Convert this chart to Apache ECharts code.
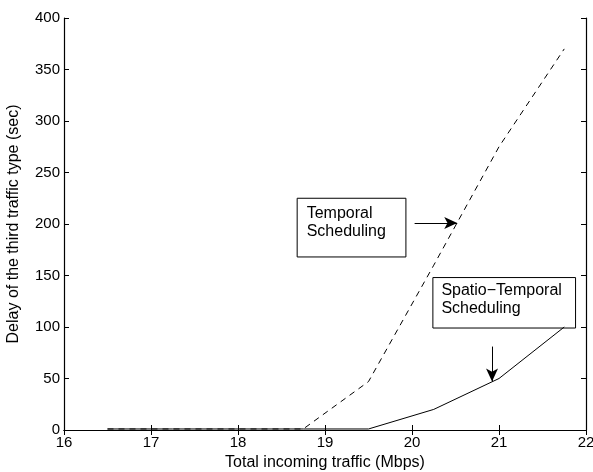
<!DOCTYPE html>
<html>
<head>
<meta charset="utf-8">
<script src="https://cdn.jsdelivr.net/npm/echarts@6/dist/echarts.min.js"></script>
<style>
    html, body { margin: 0; padding: 0; background: #fff; }
    #main { width: 593px; height: 472px; }
</style>
</head>
<body>
<div id="main"></div>
<script>
// traffic (Mbps)
var traffic = [16.5, 17.25, 18, 18.75, 19.5, 20.25, 21, 21.75]
// delay (sec)
var temporalDelay = [1, 1, 1, 1, 47, 160, 275, 370]
var spatioDelay = [1, 1, 1, 1, 1, 20, 50, 100]
var xTicks = [16, 22, 1]
var yTicks = [0, 400, 50]

var font = 'Liberation Sans, Arial, sans-serif'

function pairs (xs, ys) {
    return xs.map(function (x, i) { return [x, ys[i]] })
}

var arrowStyle = {
    silent: true,
    symbol: ['none', 'arrow'],
    symbolSize: [9, 13],
    label: {show: false},
    lineStyle: {color: '#000', width: 1, type: 'solid'},
    emphasis: {disabled: true}
}
var boxStyle = {
    silent: true,
    itemStyle: {color: '#fff', borderColor: '#000', borderWidth: 1},
    label: {
        show: true,
        position: 'insideTopLeft',
        distance: 5,
        color: '#000',
        fontFamily: font,
        fontSize: 16,
        lineHeight: 18
    },
    emphasis: {disabled: true}
}

var myChart = echarts.init(document.getElementById('main'))

// 主坐标轴
var baseX = {
    type: 'value',
    min: xTicks[0],
    max: xTicks[1],
    interval: xTicks[2],
    axisLine: {lineStyle: {color: '#000', width: 1.2}},
    axisTick: {inside: true, length: 5, lineStyle: {color: '#000'}},
    splitLine: {show: false}
}
var baseY = {
    type: 'value',
    min: yTicks[0],
    max: yTicks[1],
    interval: yTicks[2],
    axisLine: {lineStyle: {color: '#000', width: 1.2}},
    axisTick: {inside: true, length: 5, lineStyle: {color: '#000'}},
    splitLine: {show: false}
}

myChart.setOption({
    animation: false,
    grid: {left: 64, right: 7, top: 18, bottom: 42, outerBoundsMode: 'none', containLabel: false},
    xAxis: [
        Object.assign({}, baseX, {
            position: 'bottom',
            name: 'Total incoming traffic (Mbps)',
            nameLocation: 'middle',
            nameGap: 23,
            nameTextStyle: {color: '#000', fontFamily: font, fontSize: 16},
            axisLabel: {color: '#000', fontFamily: font, fontSize: 15, margin: 5}
        }),
        Object.assign({}, baseX, {
            position: 'top',
            axisLabel: {show: false}
        })
    ],
    yAxis: [
        Object.assign({}, baseY, {
            position: 'left',
            name: 'Delay of the third traffic type (sec)',
            nameLocation: 'middle',
            nameGap: 42,
            nameTextStyle: {color: '#000', fontFamily: font, fontSize: 16},
            axisLabel: {color: '#000', fontFamily: font, fontSize: 15, margin: 4}
        }),
        Object.assign({}, baseY, {
            position: 'right',
            axisLabel: {show: false}
        })
    ],
    series: [
        {
            name: 'Temporal Scheduling',
            type: 'line',
            data: pairs(traffic, temporalDelay),
            symbol: 'none',
            z: 3,
            lineStyle: {color: '#000', width: 1, type: [6, 5]},
            markArea: Object.assign({}, boxStyle, {
                data: [[
                    {coord: [18.68, 225], name: 'Temporal\nScheduling', label: {offset: [5, 2]}},
                    {coord: [19.93, 168]}
                ]]
            }),
            markLine: Object.assign({}, arrowStyle, {
                data: [[{coord: [20.03, 201]}, {coord: [20.52, 201]}]]
            })
        },
        {
            name: 'Spatio-Temporal Scheduling',
            type: 'line',
            data: pairs(traffic, spatioDelay),
            symbol: 'none',
            z: 3,
            lineStyle: {color: '#000', width: 1},
            markArea: Object.assign({}, boxStyle, {
                data: [[
                    {coord: [20.24, 148], name: 'Spatio\u2212Temporal\nScheduling', label: {offset: [4, 0]}},
                    {coord: [21.88, 99]}
                ]]
            }),
            markLine: Object.assign({}, arrowStyle, {
                data: [[{coord: [20.92, 81]}, {coord: [20.92, 47]}]]
            })
        }
    ]
})
</script>
</body>
</html>
